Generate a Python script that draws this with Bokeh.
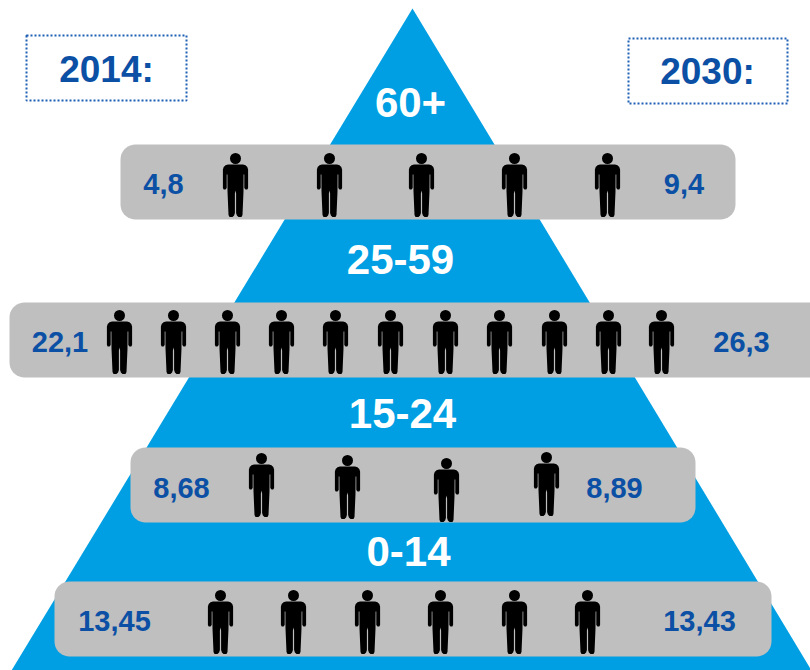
import numpy as np
from bokeh.core.properties import value
from bokeh.embed import file_html
from bokeh.models import Range1d
from bokeh.plotting import figure
from bokeh.resources import INLINE

# Content of the pyramid
years = ["2014:", "2030:"]
age_groups = ["60+", "25-59", "15-24", "0-14"]
values_2014 = ["4,8", "22,1", "8,68", "13,45"]
values_2030 = ["9,4", "26,3", "8,89", "13,43"]
people_counts = [5, 11, 4, 6]

BLUE = "#009FE3"
GREY = "#BFBFBF"
NAVY = "#0B50A5"
FONT = value("Liberation Sans")

# Layout, in page pixels
BANDS = [(120, 735, 144, 219), (9, 830, 302, 377), (130, 695, 447, 522), (54, 771, 581, 656)]
LABEL_Y = [102, 259, 413, 551]
LEFT_X = [163, 59.5, 181, 114]
RIGHT_X = [683.5, 741, 614, 699]
VALUE_Y = [183, 341, 487, 620]
PEOPLE_X = [
    [235, 329, 421, 514, 607],
    [119, 173, 227, 281, 335, 390, 445, 499, 554, 608, 661],
    [261, 347, 446, 546],
    [220, 293, 367, 440, 514, 587],
]
PEOPLE_TOP = [
    [153] * 5,
    [310] * 11,
    [453, 455, 458, 452],
    [590] * 6,
]


def rounded_box(x0, x1, y0, y1, r=15):
    """Outline of a rectangle with rounded corners."""
    xs, ys = [], []
    corners = [(x1 - r, y0 + r, -90), (x1 - r, y1 - r, 0), (x0 + r, y1 - r, 90), (x0 + r, y0 + r, 180)]
    for cx, cy, start in corners:
        a = np.radians(np.linspace(start, start + 90, 10))
        xs.extend(cx + r * np.cos(a))
        ys.extend(cy + r * np.sin(a))
    return xs, ys


# Half of a standing figure, mirrored about its vertical axis
half_x = [0, 7.5, 10, 11.8, 12.6, 12.6, 11.8, 10, 8.8, 8.8, 8.1, 8, 7, 6, 3, 1.4, 0.6, 0.6, 0]
half_y = [11, 11, 11.8, 13.5, 16, 34.5, 36, 36, 34.5, 21, 21, 38, 61.5, 63.5, 63.5, 62, 59.5, 40, 37]
body_x = np.array(half_x + [-v for v in reversed(half_x)])
body_y = np.array(half_y + list(reversed(half_y)))

p = figure(
    width=810, height=670, output_backend="svg", toolbar_location=None,
    x_range=Range1d(0, 810), y_range=Range1d(670, 0),
    min_border=0, outline_line_color=None, background_fill_color="white",
)
p.axis.visible = False
p.grid.visible = False

# Pyramid
p.patch([412, 11, 811], [8, 670, 670], fill_color=BLUE, line_color=None)

# Grey bands
shapes = [rounded_box(*b) for b in BANDS]
p.patches([s[0] for s in shapes], [s[1] for s in shapes], fill_color=GREY, line_color=None)

# Figures in each band
for count, xs, tops in zip(people_counts, PEOPLE_X, PEOPLE_TOP):
    for x, top in zip(xs[:count], tops[:count]):
        p.patch(x + body_x, top + body_y, fill_color="black", line_color=None)
        p.scatter([x], [top + 5], size=11, marker="circle", fill_color="black", line_color=None)

# Year boxes
for x0, x1, y0, y1 in [(26, 186, 35, 100), (628, 787, 38, 103)]:
    p.patch([x0, x1, x1, x0, x0], [y0, y0, y1, y1, y0], fill_color=None,
            line_color="#1F5FB5", line_width=2, line_dash="2 2")
p.text([106, 707], [69, 71], text=years, text_font=FONT, text_font_size="37px",
       text_font_style="bold", text_color=NAVY, text_align="center", text_baseline="middle")

# Age group labels
p.text([410, 400, 402, 408], LABEL_Y, text=age_groups, text_font=FONT, text_font_size="42px",
       text_font_style="bold", text_color="white", text_align="center", text_baseline="middle")

# Values
p.text(LEFT_X, VALUE_Y, text=values_2014, text_font=FONT, text_font_size="29px",
       text_font_style="bold", text_color=NAVY, text_align="center", text_baseline="middle")
p.text(RIGHT_X, VALUE_Y, text=values_2030, text_font=FONT, text_font_size="29px",
       text_font_style="bold", text_color=NAVY, text_align="center", text_baseline="middle")

open("out.html", "w").write(file_html(p, INLINE))
